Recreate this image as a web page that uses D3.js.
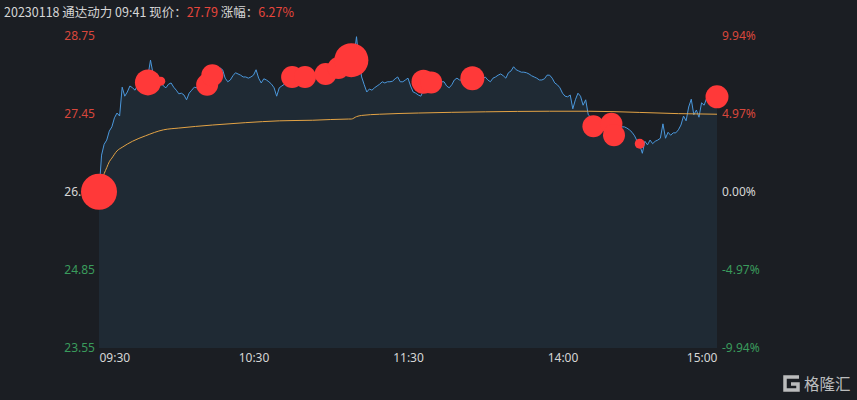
<!DOCTYPE html>
<html><head><meta charset="utf-8">
<script src="https://cdn.jsdelivr.net/npm/d3@7/dist/d3.min.js"></script>
<style>
html,body{margin:0;padding:0;background:#1b1e23;}
svg{display:block;}
</style></head>
<body><svg id="c" width="857" height="400"></svg>
<script>
// ---------- data ----------
const prevClose = 26.15;
const yTicks = [28.75, 27.45, 26.15, 24.85, 23.55];
const pctLabels = ["9.94%", "4.97%", "0.00%", "-4.97%", "-9.94%"];
const timeTicks = [0, 60, 120, 180, 240];
const timeLabels = ["09:30", "10:30", "11:30", "14:00", "15:00"];

// price per trading minute (0 = 09:30, 240 = 15:00)
const prices = [
26.15,26.76,26.94,27.01,27.16,27.23,27.38,27.46,27.41,27.89,
27.74,27.81,27.91,27.88,27.84,27.93,27.98,28.01,28.03,28.08,
28.34,28.11,28.04,28.01,27.98,27.91,27.88,27.94,27.96,27.89,
27.84,27.78,27.79,27.76,27.68,27.79,27.84,27.89,27.88,27.88,
27.86,27.91,27.93,28.01,28.09,28.13,28.14,28.21,28.18,28.04,
27.98,28.01,28.08,28.13,28.11,28.09,28.06,28.06,28.04,28.06,
28.09,28.18,28.04,27.96,28.03,28.01,27.98,27.94,27.88,27.74,
27.88,27.91,27.94,27.99,28.03,28.04,28.06,28.06,28.08,28.06,
28.04,28.08,28.11,28.09,28.08,28.11,28.13,28.11,28.11,28.13,
28.14,28.16,28.18,28.21,28.23,28.24,28.28,28.29,28.31,28.38,
28.73,28.31,28.06,27.93,27.81,27.86,27.84,27.88,27.91,27.94,
27.98,27.96,27.98,27.98,27.99,28.03,28.06,27.98,27.98,28.01,
28.04,27.91,27.81,27.79,27.76,27.74,27.84,27.91,27.93,27.94,
27.94,27.96,27.98,27.98,27.98,27.91,27.88,27.93,28.01,28.04,
28.01,28.01,27.99,28.01,28.03,28.04,28.04,28.03,28.04,28.03,
28.06,28.01,27.98,28.04,28.06,28.09,28.11,28.08,28.04,28.13,
28.16,28.23,28.18,28.16,28.14,28.14,28.13,28.11,28.08,28.06,
28.04,28.01,28.01,28.03,28.09,28.09,28.04,27.96,27.93,27.88,
27.79,27.74,27.73,27.76,27.53,27.68,27.79,27.74,27.59,27.68,
27.43,27.39,27.38,27.36,27.34,27.33,27.31,27.29,27.28,27.26,
27.24,27.24,27.24,27.23,27.23,27.21,27.18,27.14,27.08,26.99,
26.93,26.79,26.99,26.93,27.01,26.95,26.99,27.01,27.04,27.28,
27.04,27.14,27.09,27.13,27.13,27.18,27.26,27.41,27.33,27.56,
27.69,27.43,27.51,27.39,27.63,27.59,27.71,27.74,27.74,27.71,
27.73
];

// average price line (minute, price)
const avgMinutes = [0,1,2,3,4,5,7,9,13,18,25,31,44,57,70,83,97,98,100,102,109,124,150,175,190,210,225,240];
const avgPrices  = [26.15,26.31,26.45,26.55,26.65,26.71,26.83,26.89,26.99,27.08,27.18,27.21,27.26,27.30,27.33,27.34,27.36,27.36,27.40,27.42,27.44,27.46,27.48,27.49,27.49,27.47,27.45,27.44];

// big-order bubbles (minute, price, size)
const bubbleMinutes = [0,19,24,42,44,75,80,88,93,98,126,129,145,192,199,200,210,240];
const bubblePrices  = [26.15,27.97,27.99,27.93,28.09,28.06,28.06,28.11,28.21,28.34,27.98,27.97,28.04,27.24,27.28,27.09,26.95,27.73];
const bubbleSizes   = [324,169,20,121,121,121,121,121,121,289,144,121,144,121,121,121,25,132];

// ---------- chart ----------
const svg = d3.select("#c");
const X0 = 99, X1 = 717, YT = 35.5, YB = 348;
const x = d3.scaleLinear().domain([0, 240]).range([X0, X1]);
const y = d3.scaleLinear().domain([23.55, 28.75]).range([YB, YT]);
const r = d3.scaleSqrt().domain([0, 324]).range([0, 18]);

const numFont = "'Noto Sans', 'Noto Sans CJK SC', sans-serif";
const cjkFont = "'Noto Sans CJK SC', 'Noto Sans', sans-serif";
const RED = "#d8473c", GREEN = "#3a9b5c", GREY = "#d6d6d6";

const series = prices.map((p, i) => ({m: i, p}));

// area under price
svg.append("path").datum(series)
  .attr("fill", "#1f2a34")
  .attr("d", d3.area().x(d => x(d.m)).y0(YB).y1(d => y(d.p)));

// price line
svg.append("path").datum(series)
  .attr("fill", "none").attr("stroke", "#4b98dc").attr("stroke-width", 1)
  .attr("d", d3.line().x(d => x(d.m)).y(d => y(d.p)));

// avg line
const avg = avgMinutes.map((m, i) => ({m, p: avgPrices[i]}));
svg.append("path").datum(avg)
  .attr("fill", "none").attr("stroke", "#e3a345").attr("stroke-width", 1)
  .attr("d", d3.line().curve(d3.curveMonotoneX).x(d => x(d.m)).y(d => y(d.p)));

function tickColor(v) { return v > prevClose ? RED : (v < prevClose ? GREEN : GREY); }

// left axis
const gl = svg.append("g").attr("transform", `translate(${X0},0)`)
  .call(d3.axisLeft(y).tickValues(yTicks).tickSize(0).tickPadding(4).tickFormat(d3.format(".2f")));
gl.select(".domain").remove();
gl.selectAll("text").attr("font-family", numFont).attr("font-size", 12)
  .attr("fill", d => tickColor(d));

// right axis
const gr = svg.append("g").attr("transform", `translate(${X1},0)`)
  .call(d3.axisRight(y).tickValues(yTicks).tickSize(0).tickPadding(5)
    .tickFormat((d, i) => pctLabels[i]));
gr.select(".domain").remove();
gr.selectAll("text").attr("font-family", numFont).attr("font-size", 12)
  .attr("fill", d => tickColor(d));

// bottom axis
const gb = svg.append("g").attr("transform", `translate(0,${YB})`)
  .call(d3.axisBottom(x).tickValues(timeTicks).tickSize(0).tickPadding(5)
    .tickFormat((d, i) => timeLabels[i]));
gb.select(".domain").remove();
gb.selectAll("text").attr("font-family", numFont).attr("font-size", 12).attr("fill", GREY)
  .attr("text-anchor", (d, i) => i === 0 ? "start" : (i === timeTicks.length - 1 ? "end" : "middle"));

// bubbles
const bubbles = bubbleMinutes.map((m, i) => ({m, p: bubblePrices[i], s: bubbleSizes[i]}));
svg.append("g").selectAll("circle").data(bubbles).join("circle")
  .attr("cx", d => x(d.m)).attr("cy", d => y(d.p)).attr("r", d => r(d.s))
  .attr("fill", "#ff3939");

// header
const head = svg.append("text").attr("x", 4).attr("y", 17)
  .attr("font-family", cjkFont).attr("font-size", 12.5).attr("fill", GREY);
head.append("tspan").text("20230118 通达动力 09:41 现价：");
head.append("tspan").attr("fill", "#e8463c").text("27.79");
head.append("tspan").text(" 涨幅：");
head.append("tspan").attr("fill", "#e8463c").text("6.27%");

// watermark
const wm = svg.append("g").attr("opacity", 0.85);
wm.append("path")
  .attr("d", "M799,377 L785,377 L785,390 L798,390 L798,384 L791,384")
  .attr("fill", "none").attr("stroke", "#d8d8d8").attr("stroke-width", 3.5)
  .attr("stroke-linejoin", "miter");
wm.append("text").attr("x", 804).attr("y", 390)
  .attr("font-family", cjkFont).attr("font-size", 15.5).attr("fill", "#d8d8d8")
  .text("格隆汇");
</script></body></html>
